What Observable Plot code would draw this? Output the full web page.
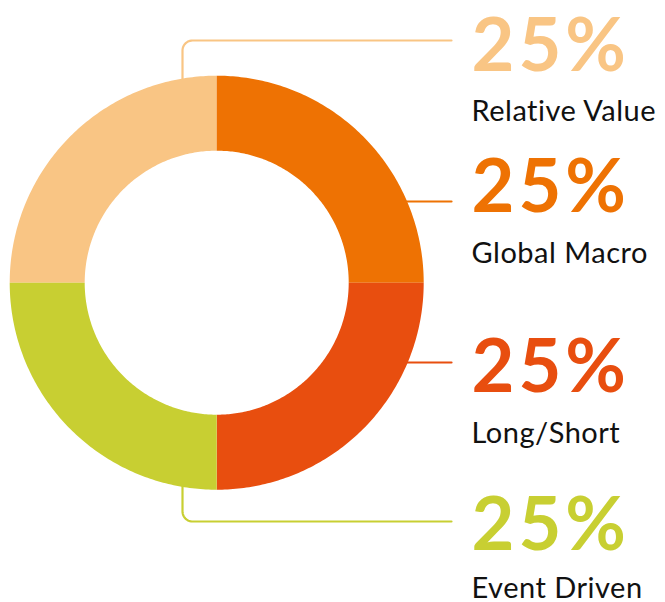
<!DOCTYPE html>
<html>
<head>
<meta charset="utf-8">
<script src="https://cdn.jsdelivr.net/npm/d3@7"></script>
<script src="https://cdn.jsdelivr.net/npm/@observablehq/plot@0.6"></script>
<style>
  html, body { margin: 0; padding: 0; background: #fff; }
  #chart svg { display: block; }
</style>
</head>
<body>
<div id="chart"></div>
<script>
// ---- data ----
const categories = ["Relative Value", "Global Macro", "Long/Short", "Event Driven"];
const shares = [25, 25, 25, 25];
const palette = ["#F9C584", "#EE7203", "#E84E0F", "#C8CF32"];

// ---- layout ----
const W = 665, H = 602;
const cx = 216.7, cy = 282.7, R = 207, r = 132;
const startAngle = -Math.PI / 2; // 9 o'clock, clockwise
const labelX = 471;
const pctBaseline = [70, 211, 391, 549];
const nameBaseline = [120, 262, 442, 597];
const leaderY = [40, 201, 362, 521];
const leaderEndX = 451;
const stemX = 182;
const corner = 10;

// donut slices as ring polygons
const total = d3.sum(shares);
const ring = [];
let acc = 0;
categories.forEach((cat, i) => {
  const a0 = startAngle + (acc / total) * 2 * Math.PI;
  acc += shares[i];
  const a1 = startAngle + (acc / total) * 2 * Math.PI;
  const N = 120;
  for (let k = 0; k <= N; k++) {
    const t = a0 + (a1 - a0) * k / N;
    ring.push({
      cat,
      x1: cx + R * Math.sin(t), y1: cy - R * Math.cos(t),
      x2: cx + r * Math.sin(t), y2: cy - r * Math.cos(t)
    });
  }
});

// leader lines
const leaders = [];
// Relative Value: up from donut top
{
  const cat = categories[0], y0 = leaderY[0];
  leaders.push({cat, x: stemX, y: cy - Math.sqrt(R * R - (stemX - cx) ** 2) + 3});
  for (let k = 0; k <= 12; k++) {
    const t = (Math.PI / 2) * k / 12;
    leaders.push({cat, x: stemX + corner - corner * Math.cos(t), y: y0 + corner - corner * Math.sin(t)});
  }
  leaders.push({cat, x: leaderEndX, y: y0});
}
// Global Macro and Long/Short: horizontal from ring edge
[1, 2].forEach(i => {
  const cat = categories[i], y0 = leaderY[i];
  const xs = cx + Math.sqrt(R * R - (y0 - cy) ** 2) - 3;
  leaders.push({cat, x: xs, y: y0});
  leaders.push({cat, x: leaderEndX, y: y0});
});
// Event Driven: down from donut bottom
{
  const cat = categories[3], y0 = leaderY[3];
  leaders.push({cat, x: stemX, y: cy + Math.sqrt(R * R - (stemX - cx) ** 2) - 3});
  for (let k = 0; k <= 12; k++) {
    const t = (Math.PI / 2) * k / 12;
    leaders.push({cat, x: stemX + corner - corner * Math.cos(t), y: y0 - corner + corner * Math.sin(t)});
  }
  leaders.push({cat, x: leaderEndX, y: y0});
}

const labels = categories.map((cat, i) => ({
  cat, pct: `${shares[i]}%`, py: pctBaseline[i], ny: nameBaseline[i]
}));

const chart = Plot.plot({
  width: W, height: H,
  marginTop: 0, marginRight: 0, marginBottom: 0, marginLeft: 0,
  x: {domain: [0, W], range: [0, W], axis: null},
  y: {domain: [0, H], range: [0, H], axis: null},
  color: {domain: categories, range: palette},
  style: {background: "#fff", overflow: "visible"},
  marks: [
    Plot.line(leaders, {x: "x", y: "y", z: "cat", stroke: "cat", strokeWidth: 2.2, curve: "linear"}),
    Plot.area(ring, {x1: "x1", y1: "y1", x2: "x2", y2: "y2", z: "cat", fill: "cat", curve: "linear"}),
    Plot.text(labels, {x: () => labelX, y: "py", text: "pct", fill: "cat", textAnchor: "start", lineAnchor: "bottom",
      fontSize: 74, fontWeight: 700, fontFamily: "Lato"}),
    Plot.text(labels, {x: () => labelX, y: "ny", text: "cat", fill: "#111", textAnchor: "start", lineAnchor: "bottom",
      fontSize: 29, fontWeight: 400, fontFamily: "Lato"})
  ]
});
const textGroups = d3.select(chart).selectAll('g[aria-label="text"]').nodes();
if (textGroups[0]) d3.select(textGroups[0]).style("letter-spacing", "4px");
if (textGroups[1]) d3.select(textGroups[1]).style("letter-spacing", "0.5px");
document.getElementById("chart").append(chart);
</script>
</body>
</html>
